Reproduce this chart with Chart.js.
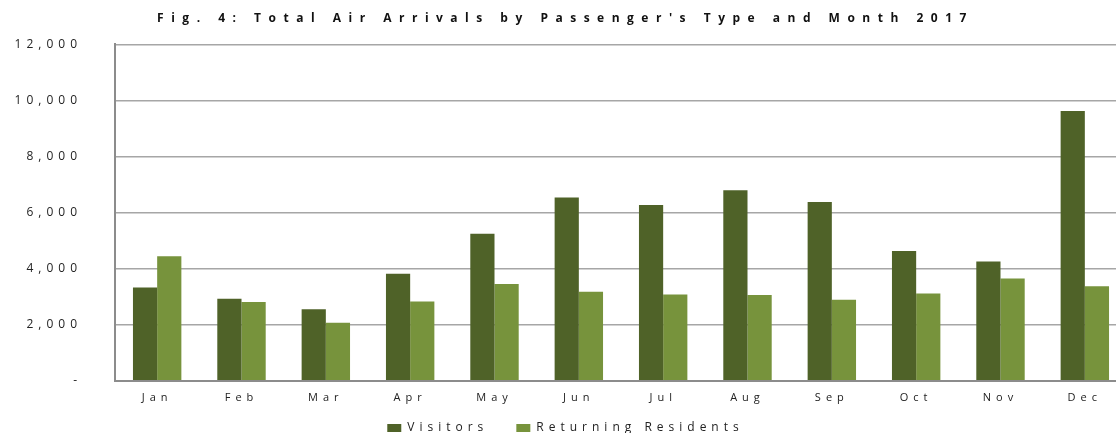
<!DOCTYPE html>
<html>
<head>
<meta charset="utf-8">
<script src="https://cdn.jsdelivr.net/npm/chart.js@4"></script>
<style>
  html, body { margin: 0; padding: 0; background: #fff; overflow: hidden; }
  #wrap { width: 1128px; height: 462px; }
</style>
</head>
<body>
<div id="wrap"><canvas id="arrivalsChart"></canvas></div>
<script>
const months = ['Jan', 'Feb', 'Mar', 'Apr', 'May', 'Jun', 'Jul', 'Aug', 'Sep', 'Oct', 'Nov', 'Dec'];
const visitors = [3330, 2930, 2550, 3820, 5250, 6540, 6270, 6800, 6380, 4630, 4260, 9620];
const residents = [4440, 2810, 2070, 2830, 3450, 3180, 3080, 3060, 2890, 3110, 3650, 3370];
const yMax = 12000;
const yStep = 2000;

// spread letters like the original spreadsheet chart
const letterSpacing = {
    id: 'letterSpacing',
    beforeUpdate: function (chart) { chart.ctx.letterSpacing = '5px'; },
    beforeLayout: function (chart) { chart.ctx.letterSpacing = '5px'; },
    beforeDraw: function (chart) { chart.ctx.letterSpacing = '5px'; }
};

document.addEventListener('DOMContentLoaded', function () {
    const ctx = document.getElementById('arrivalsChart').getContext('2d');
    Chart.defaults.font.family = "'Open Sans', 'Noto Sans', sans-serif";
    Chart.defaults.color = '#222';

    const chart = new Chart(ctx, {
        type: 'bar',
        data: {
            labels: months,
            datasets: [{
                label: 'Visitors',
                data: visitors,
                backgroundColor: '#4f6228',
                borderWidth: 0
            }, {
                label: 'Returning Residents',
                data: residents,
                backgroundColor: '#77933c',
                borderWidth: 0
            }]
        },
        options: {
            responsive: true,
            maintainAspectRatio: false,
            animation: false,
            layout: { padding: { left: 4, right: 1, top: 0, bottom: 0 } },
            datasets: {
                bar: { categoryPercentage: 0.574, barPercentage: 1.0 }
            },
            plugins: {
                title: {
                    display: true,
                    text: "Fig. 4: Total Air Arrivals by Passenger's Type and Month 2017",
                    font: { size: 12, weight: 'bold' },
                    color: '#111',
                    padding: { top: 11, bottom: 19 }
                },
                legend: {
                    position: 'bottom',
                    labels: {
                        boxWidth: 14,
                        boxHeight: 8,
                        padding: 28,
                        font: { size: 12 }
                    }
                },
                tooltip: { enabled: false }
            },
            scales: {
                x: {
                    grid: { display: false },
                    border: { display: true, color: '#8c8c8c', width: 2 },
                    ticks: { padding: 2, font: { size: 11 } }
                },
                y: {
                    min: 0,
                    max: yMax,
                    afterFit: function (scale) { scale.width = 111; },
                    ticks: {
                        stepSize: yStep,
                        padding: 33,
                        font: { size: 12 },
                        callback: function (v) { return v === 0 ? '-' : v.toLocaleString('en-US'); }
                    },
                    grid: { color: '#a6a6a6', lineWidth: 1.5, drawTicks: false },
                    border: { display: true, color: '#8c8c8c', width: 2 }
                }
            }
        },
        plugins: [letterSpacing]
    });

    // title is spaced wider than the rest
    const titleBox = chart.titleBlock;
    const drawTitle = titleBox.draw;
    titleBox.draw = function () {
        const c = this.ctx;
        const prev = c.letterSpacing;
        c.letterSpacing = '7.5px';
        drawTitle.apply(this, arguments);
        c.letterSpacing = prev;
    };

    // wide gap between legend items but tight to the axis labels
    const legend = chart.legend;
    const fitLegend = legend.fit;
    legend.fit = function () {
        fitLegend.apply(this, arguments);
        this.height = 56;
    };
    const drawLegend = legend.draw;
    legend.draw = function () {
        const c = this.ctx;
        c.save();
        c.translate(0, -12);
        drawLegend.apply(this, arguments);
        c.restore();
    };
    chart.update();
});
</script>
</body>
</html>
